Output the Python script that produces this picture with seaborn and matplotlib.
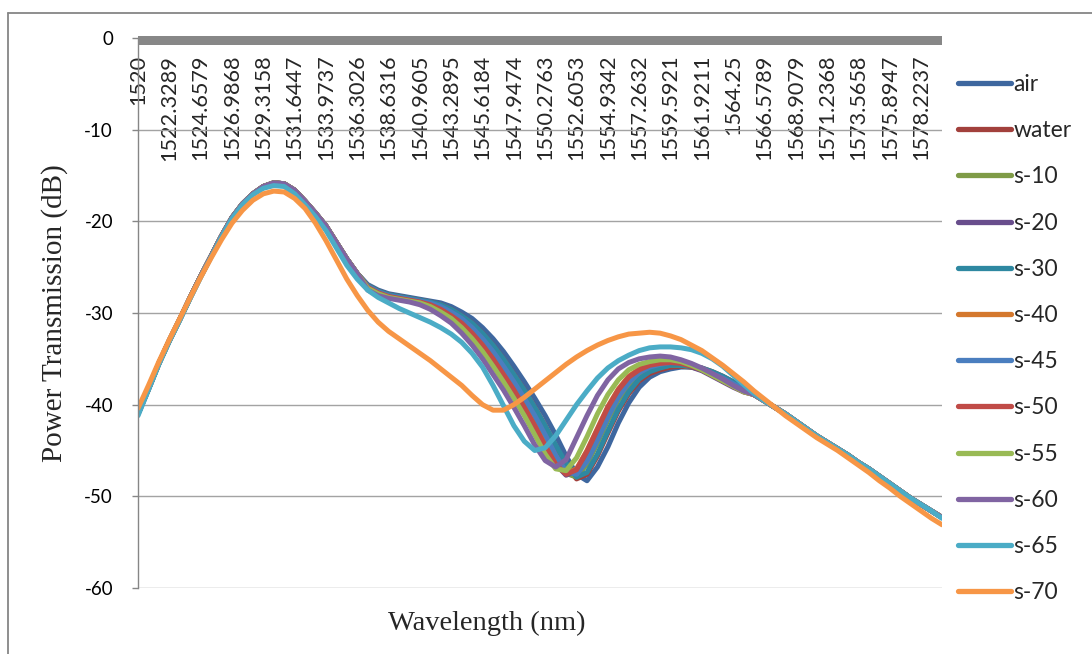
import matplotlib
matplotlib.use("Agg")
import matplotlib.pyplot as plt
from matplotlib.lines import Line2D
import pandas as pd
import seaborn as sns

# ---- category axis: 78 wavelength samples, every third one labelled ----
n_points = 78
label_step = 3
tick_labels = ["1520", "1522.3289", "1524.6579", "1526.9868", "1529.3158",
               "1531.6447", "1533.9737", "1536.3026", "1538.6316", "1540.9605",
               "1543.2895", "1545.6184", "1547.9474", "1550.2763", "1552.6053",
               "1554.9342", "1557.2632", "1559.5921", "1561.9211", "1564.25",
               "1566.5789", "1568.9079", "1571.2368", "1573.5658", "1575.8947",
               "1578.2237"]

# ---- transmission (dB) ----
# shared leading part (samples 0-21) of the overlapping curves
rise_common = [-41.0, -38.3, -35.5, -33.0, -30.7, -28.3, -26.0, -23.8, -21.6, -19.6,
               -18.1, -17.0, -16.2, -15.8, -15.9, -16.6, -17.8, -19.1, -20.5, -22.3,
               -24.1, -25.7]
# shared trailing part (samples 59-77) where the curves merge again
tail_common = [-38.9, -39.6, -40.3, -41.0, -41.8, -42.6, -43.4, -44.1, -44.8, -45.5,
               -46.3, -47.0, -47.8, -48.6, -49.4, -50.2, -50.9, -51.6, -52.3]

# samples 22-58 of each curve
mid_air = [-26.9, -27.5, -27.9, -28.1, -28.3, -28.5, -28.7, -28.9, -29.3, -29.9,
           -30.6, -31.6, -32.8, -34.2, -35.8, -37.5, -39.3, -41.2, -43.3, -45.6,
           -47.6, -48.3, -46.8, -44.6, -42.0, -39.8, -38.1, -37.0, -36.4, -36.1,
           -35.9, -35.9, -36.1, -36.5, -37.0, -37.6, -38.3]
mid_water = [-27.0, -27.6, -28.0, -28.2, -28.4, -28.6, -28.8, -29.1, -29.6, -30.3,
             -31.1, -32.2, -33.5, -35.0, -36.7, -38.4, -40.3, -42.3, -44.5, -46.6,
             -48.1, -47.6, -45.6, -43.1, -40.7, -38.8, -37.4, -36.6, -36.2, -35.9,
             -35.8, -35.9, -36.0, -36.4, -36.9, -37.5, -38.2]
mid_s10 = [-27.1, -27.7, -28.1, -28.3, -28.5, -28.7, -28.9, -29.3, -29.9, -30.6,
           -31.6, -32.8, -34.2, -35.8, -37.5, -39.3, -41.2, -43.3, -45.6, -47.5,
           -47.9, -46.5, -44.2, -41.7, -39.5, -37.9, -36.8, -36.2, -35.9, -35.7,
           -35.7, -35.9, -36.2, -36.7, -37.2, -37.8, -38.4]
mid_s20 = [-27.2, -27.8, -28.2, -28.4, -28.6, -28.8, -29.1, -29.6, -30.3, -31.1,
           -32.2, -33.5, -35.0, -36.7, -38.4, -40.3, -42.3, -44.5, -46.5, -47.7,
           -47.2, -45.3, -42.9, -40.5, -38.6, -37.2, -36.4, -35.9, -35.6, -35.5,
           -35.6, -35.9, -36.3, -36.9, -37.5, -38.1, -38.6]
mid_s30 = [-27.0, -27.6, -28.0, -28.2, -28.4, -28.6, -28.8, -29.1, -29.6, -30.3,
           -31.1, -32.2, -33.5, -35.0, -36.7, -38.4, -40.3, -42.3, -44.4, -46.4,
           -47.9, -47.4, -45.4, -42.9, -40.5, -38.6, -37.2, -36.4, -36.0, -35.7,
           -35.7, -35.8, -36.0, -36.4, -36.9, -37.5, -38.2]
mid_s40 = [-27.2, -27.8, -28.2, -28.4, -28.6, -28.8, -29.1, -29.6, -30.3, -31.1,
           -32.2, -33.5, -35.0, -36.7, -38.4, -40.3, -42.3, -44.4, -46.4, -47.5,
           -47.0, -45.0, -42.6, -40.2, -38.3, -36.9, -36.1, -35.6, -35.4, -35.3,
           -35.4, -35.7, -36.1, -36.7, -37.3, -37.9, -38.5]
mid_s45 = [-27.1, -27.7, -28.1, -28.3, -28.5, -28.7, -28.9, -29.3, -29.9, -30.6,
           -31.6, -32.8, -34.2, -35.8, -37.5, -39.3, -41.2, -43.3, -45.5, -47.3,
           -47.6, -46.2, -43.9, -41.4, -39.2, -37.6, -36.5, -35.9, -35.6, -35.4,
           -35.4, -35.7, -36.1, -36.6, -37.1, -37.7, -38.3]
mid_s50 = [-27.2, -27.8, -28.2, -28.4, -28.6, -28.8, -29.1, -29.6, -30.3, -31.1,
           -32.2, -33.5, -35.0, -36.7, -38.4, -40.3, -42.3, -44.5, -46.5, -47.6,
           -47.1, -45.1, -42.7, -40.3, -38.4, -37.0, -36.2, -35.7, -35.5, -35.4,
           -35.5, -35.8, -36.2, -36.8, -37.4, -38.0, -38.6]
mid_s55 = [-27.3, -27.9, -28.3, -28.5, -28.7, -28.9, -29.3, -29.9, -30.6, -31.6,
           -32.8, -34.2, -35.8, -37.5, -39.3, -41.2, -43.3, -45.4, -47.0, -47.2,
           -45.8, -43.5, -41.0, -38.9, -37.3, -36.2, -35.6, -35.3, -35.1, -35.1,
           -35.3, -35.7, -36.2, -36.8, -37.4, -38.0, -38.6]
mid_s60 = [-27.5, -28.1, -28.4, -28.6, -28.8, -29.1, -29.6, -30.3, -31.1, -32.2,
           -33.5, -35.0, -36.7, -38.4, -40.3, -42.3, -44.4, -46.1, -46.8, -46.0,
           -43.6, -41.2, -39.0, -37.3, -36.1, -35.4, -35.0, -34.8, -34.7, -34.8,
           -35.1, -35.5, -36.0, -36.6, -37.2, -37.9, -38.5]

s65 = [-41.2, -38.4, -35.6, -33.1, -30.8, -28.4, -26.1, -23.9, -21.7, -19.7,
       -18.2, -17.1, -16.4, -16.1, -16.2, -17.0, -18.2, -19.5, -21.0, -22.9,
       -24.8, -26.3, -27.5, -28.3, -28.9, -29.5, -30.0, -30.5, -31.0, -31.6,
       -32.3, -33.2, -34.4, -35.9, -37.9, -40.1, -42.3, -44.0, -45.0, -44.7,
       -43.4, -41.7, -40.0, -38.5, -37.1, -36.0, -35.2, -34.6, -34.1, -33.8,
       -33.7, -33.7, -33.8, -34.0, -34.4, -35.0, -35.8, -36.8, -37.8, -38.8,
       -39.6, -40.3, -41.0, -41.8, -42.6, -43.4, -44.1, -44.8, -45.5, -46.3,
       -47.0, -47.8, -48.6, -49.4, -50.2, -50.9, -51.6, -52.4]
s70 = [-40.4, -37.9, -35.3, -32.9, -30.6, -28.3, -26.1, -24.0, -22.0, -20.2,
       -18.8, -17.7, -17.0, -16.7, -16.8, -17.5, -18.6, -20.2, -22.1, -24.2,
       -26.3, -28.1, -29.7, -31.0, -32.0, -32.8, -33.6, -34.4, -35.2, -36.1,
       -37.0, -37.9, -39.0, -40.0, -40.6, -40.6, -40.0, -39.2, -38.3, -37.4,
       -36.5, -35.6, -34.8, -34.1, -33.5, -33.0, -32.6, -32.3, -32.2, -32.1,
       -32.2, -32.5, -32.9, -33.5, -34.1, -34.9, -35.7, -36.6, -37.5, -38.5,
       -39.4, -40.3, -41.2, -42.0, -42.8, -43.6, -44.3, -45.0, -45.8, -46.6,
       -47.4, -48.3, -49.1, -50.0, -50.8, -51.6, -52.4, -53.1]

series = {
    "air": rise_common + mid_air + tail_common,
    "water": rise_common + mid_water + tail_common,
    "s-10": rise_common + mid_s10 + tail_common,
    "s-20": rise_common + mid_s20 + tail_common,
    "s-30": rise_common + mid_s30 + tail_common,
    "s-40": rise_common + mid_s40 + tail_common,
    "s-45": rise_common + mid_s45 + tail_common,
    "s-50": rise_common + mid_s50 + tail_common,
    "s-55": rise_common + mid_s55 + tail_common,
    "s-60": rise_common + mid_s60 + tail_common,
    "s-65": s65,
    "s-70": s70,
}
names = list(series.keys())
palette = {"air": "#3E679F", "water": "#A2403C", "s-10": "#7F9B47",
           "s-20": "#684D8C", "s-30": "#2E88A1", "s-40": "#D4782D",
           "s-45": "#4A7EBF", "s-50": "#C04B47", "s-55": "#99BA55",
           "s-60": "#8064A2", "s-65": "#4BACC6", "s-70": "#F79646"}

rows = []
for name in names:
    for i, v in enumerate(series[name]):
        rows.append({"idx": i, "dB": v, "series": name})
df = pd.DataFrame(rows)

# ---- figure ----
sns.set_style("white")
plt.rcParams["font.family"] = ["Lato", "DejaVu Sans"]
fig = plt.figure(figsize=(10.92, 6.54), dpi=100)
ax = fig.add_axes([138 / 1092, 1 - 588 / 654, 804 / 1092, 550 / 654])

sns.lineplot(data=df, x="idx", y="dB", hue="series", hue_order=names,
             palette=palette, linewidth=3.6, estimator=None, sort=False,
             ax=ax, legend=True)
for ln in ax.get_lines():
    ln.set_solid_joinstyle("round")
    ln.set_solid_capstyle("round")

ax.set_xlim(0, n_points - 1)
ax.set_ylim(-60, 0)

# value axis
ax.set_yticks(range(-60, 1, 10))
ax.set_yticklabels([str(v) for v in range(-60, 1, 10)])
ax.yaxis.grid(True, color="#a3a3a3", linewidth=1.0)
ax.xaxis.grid(False)
ax.tick_params(axis="y", left=True, direction="out", length=4, width=1,
               color="#868686", labelsize=13.5, pad=14, labelcolor="#000000")

# category axis sits on the 0 dB line at the top
ax.set_xticks(range(0, len(tick_labels) * label_step, label_step))
ax.set_xticklabels(tick_labels, rotation=90)
ax.tick_params(axis="x", bottom=False, top=False, labelbottom=False,
               labeltop=True, labelsize=15.6, pad=-15.5)
for t in ax.get_xticklabels():
    t.set_va("top")
ax.axhspan(-0.78, 0.2, color="#878787", linewidth=0, clip_on=False, zorder=3)

for side in ["top", "right", "bottom"]:
    ax.spines[side].set_visible(False)
ax.spines["left"].set_color("#868686")
ax.spines["left"].set_linewidth(1.0)

ax.set_xlabel("Wavelength (nm)", family="Liberation Serif", fontsize=20.5)
ax.xaxis.set_label_position("bottom")
ax.xaxis.set_label_coords(0.434, -0.041)
ax.xaxis.label.set_va("top")
ax.set_ylabel("Power Transmission (dB)", family="Liberation Serif", fontsize=21)
ax.yaxis.set_label_coords(-0.087, 0.5)

handles, labels = ax.get_legend_handles_labels()
ax.get_legend().remove()
leg = fig.legend(handles, labels, loc="upper left",
                 bbox_to_anchor=(958 / 1092, 1 - 74 / 654),
                 bbox_transform=fig.transFigure, frameon=False, fontsize=16.5,
                 handlelength=2.3, handletextpad=0.13, labelspacing=1.1,
                 borderpad=0, borderaxespad=0)
for h in leg.legend_handles:
    h.set_linewidth(3.8)

# chart frame (visible along top and left)
fig.add_artist(Line2D([8 / 1092, 8 / 1092], [0, 1 - 13 / 654],
                      transform=fig.transFigure, color="#868686", linewidth=1.3))
fig.add_artist(Line2D([8 / 1092, 1], [1 - 13 / 654, 1 - 13 / 654],
                      transform=fig.transFigure, color="#868686", linewidth=1.3))

fig.savefig("out.png", dpi=100)
